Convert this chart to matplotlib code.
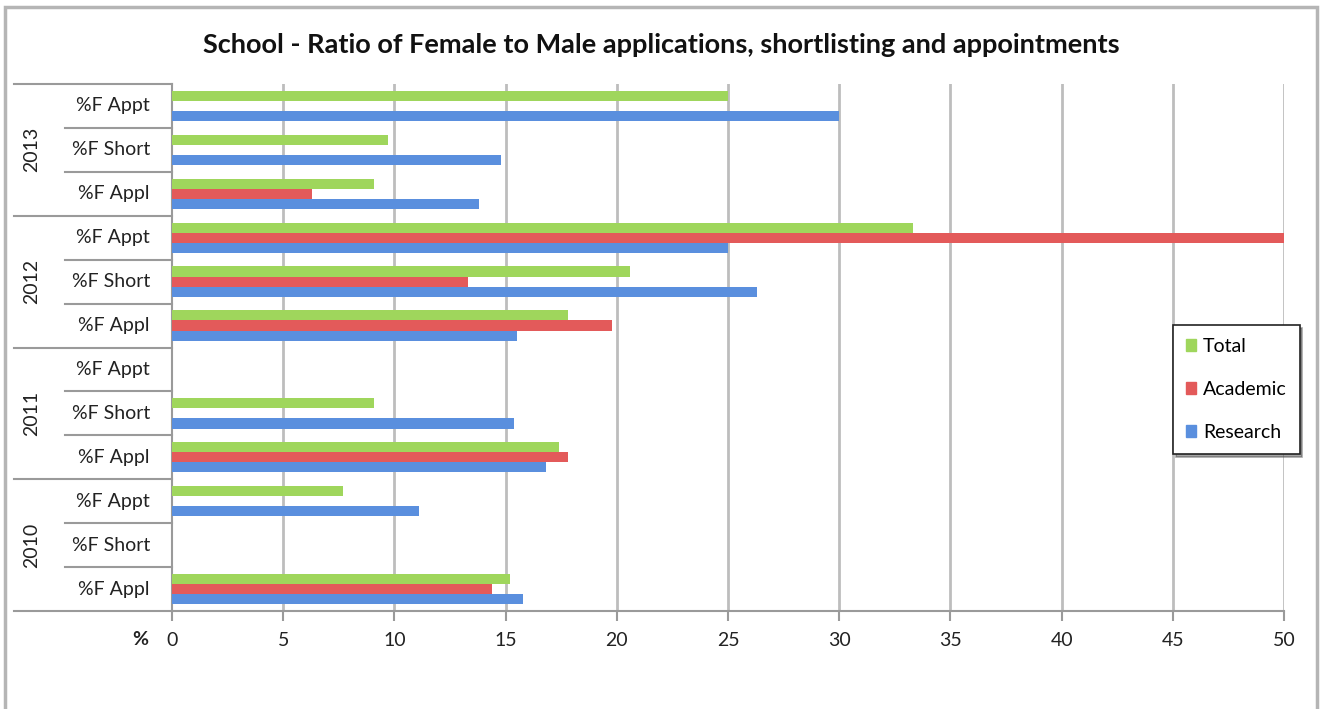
import numpy as np
import matplotlib
matplotlib.use('Agg')
import matplotlib.pyplot as plt
import matplotlib.transforms as mtransforms
from matplotlib.patches import Rectangle, Patch

plt.rcParams['font.family'] = ['Lato', 'DejaVu Sans']

# categories listed bottom to top
years = ['2010', '2011', '2012', '2013']
stages = ['%F Appl', '%F Short', '%F Appt']
total = [15.2, 0, 7.7, 17.4, 9.1, 0, 17.8, 20.6, 33.3, 9.1, 9.7, 25.0]
academic = [14.4, 0, 0, 17.8, 0, 0, 19.8, 13.3, 50.0, 6.3, 0, 0]
research = [15.8, 0, 11.1, 16.8, 15.4, 0, 15.5, 26.3, 25.0, 13.8, 14.8, 30.0]
xticks = list(range(0, 51, 5))

c_total = '#9fd65c'
c_acad = '#e35a5a'
c_res = '#5a8fde'
grid_c = '#bdbdbd'
line_c = '#9a9a9a'
fs = 14

W, H = 1322, 709
fig = plt.figure(figsize=(W / 100, H / 100), dpi=100)
ax = fig.add_axes([172 / W, (H - 611) / H, 1112 / W, (611 - 84) / H])

n = len(total)
y = np.arange(n)
h = 0.23
ax.barh(y + h, total, height=h, color=c_total, label='Total', zorder=3)
ax.barh(y, academic, height=h, color=c_acad, label='Academic', zorder=3)
ax.barh(y - h, research, height=h, color=c_res, label='Research', zorder=3)

ax.set_xlim(0, 50)
ax.set_ylim(-0.5, n - 0.5)
ax.set_xticks(xticks)
ax.set_xticklabels([str(t) for t in xticks], fontsize=fs, color='#222222')
ax.tick_params(axis='x', length=7, width=1.5, color=line_c, pad=8)
ax.set_yticks([])
for t in xticks[1:]:
    ax.axvline(t, color=grid_c, lw=2, zorder=1)

for s in ['top', 'right']:
    ax.spines[s].set_visible(False)
ax.spines['left'].set_color(line_c)
ax.spines['left'].set_linewidth(1.5)
ax.spines['bottom'].set_color(line_c)
ax.spines['bottom'].set_linewidth(1.5)

# multi-level category axis on the left
tr = mtransforms.blended_transform_factory(ax.transAxes, ax.transData)
x_year = (14 - 172) / 1112
x_sub = (65 - 172) / 1112
for k in range(n + 1):
    yy = k - 0.5
    x0 = x_year if k % 3 == 0 else x_sub
    ax.plot([x0, 0], [yy, yy], transform=tr, color=line_c, lw=1.5, clip_on=False)
for i in range(n):
    ax.text((150 - 172) / 1112, i, stages[i % 3], transform=tr, ha='right', va='center',
            fontsize=fs, color='#222222')
for j, yr in enumerate(years):
    ax.text((32 - 172) / 1112, j * 3 + 1, yr, transform=tr, ha='center', va='center',
            rotation=90, fontsize=fs, color='#222222')

ax.text((148 - 172) / 1112, -0.055, '%', transform=ax.transAxes, ha='right', va='center',
        fontsize=fs, fontweight='bold', color='#222222')

fig.text(661 / W, 1 - 45 / H, 'School - Ratio of Female to Male applications, shortlisting and appointments',
         ha='center', va='center', fontsize=19.5, fontweight='bold', color='#111111')

# chart area border
fig.patches.append(Rectangle((5 / W, -0.05), 1312 / W, 1.05 - 7 / H, transform=fig.transFigure,
                             fill=False, edgecolor='#b5b5b5', lw=2.5))

handles = [Patch(color=c_total, label='Total'), Patch(color=c_acad, label='Academic'),
           Patch(color=c_res, label='Research')]
leg = fig.legend(handles=handles, loc='upper left', bbox_to_anchor=(1173 / W, 1 - 325 / H),
                 frameon=True, fancybox=False, shadow=True, fontsize=fs,
                 handlelength=0.55, handleheight=0.55, handletextpad=0.35,
                 labelspacing=1.35, borderpad=0.65, borderaxespad=0)
leg.get_frame().set_edgecolor('#222222')
leg.get_frame().set_linewidth(1.2)

fig.savefig('out.png', dpi=100, facecolor='white')
